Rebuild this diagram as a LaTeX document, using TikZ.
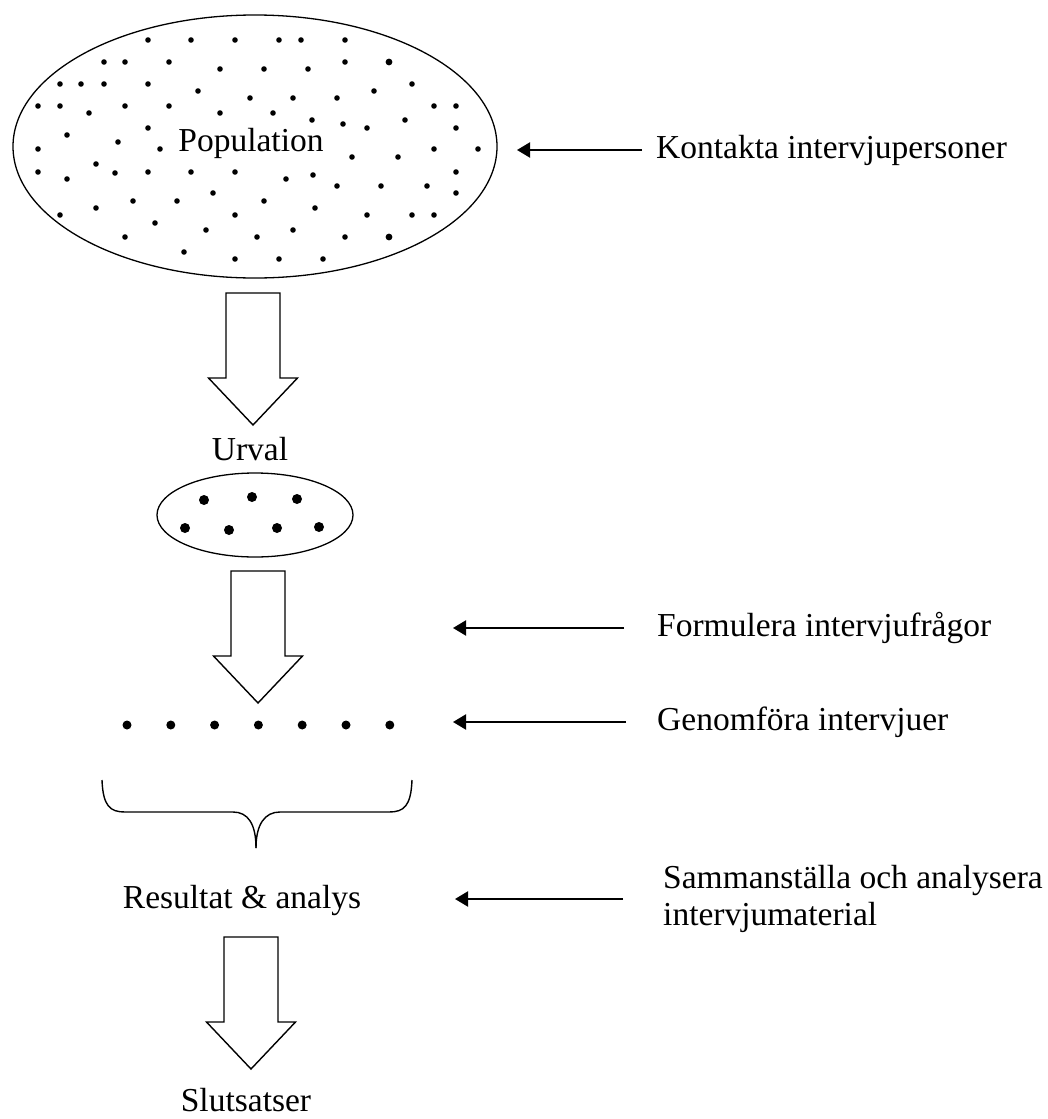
\documentclass[tikz,border=0pt]{standalone}
\usepackage{fontspec}
\setmainfont{Liberation Serif}
\usetikzlibrary{arrows.meta,shapes.geometric}

\tikzset{
  txt/.style={font=\fontsize{33.5}{37}\selectfont, inner sep=0pt},
  pointer/.style={line width=2pt, -{Triangle[length=13pt,width=15pt]}},
  blockarrow/.style={line width=1.4pt},
  ring/.style={draw, ellipse, line width=1.3pt, inner sep=0pt}
}

% block arrow pointing down, #1 = top centre of the shaft
\newcommand{\downblock}[1]{%
  \draw[blockarrow] (#1) ++(-27,0) -- ++(0,85) -- ++(-17.5,0) -- ++(44.5,47)
    -- ++(44.5,-47) -- ++(-17.5,0) -- ++(0,-85) -- cycle;}

\begin{document}
\begin{tikzpicture}[x=1pt,y=-1pt]
 \useasboundingbox (0,0) rectangle (1047,1119);

 % population
 \node[ring, minimum width=484, minimum height=263] (population) at (255,146.5) {};
 \foreach \px/\py in {148/40,191/40,235/40,279/40,301/40,345/40,
   104/62,125/62,169/62,345/62,220/69,264/69,308/69,
   60/84,81/84,104/84,148/84,412/84,198/91,374/91,250/98,293/98,337/98,
   38/106,60/106,125/106,169/106,434/106,456/106,89/113,220/113,273/113,
   312/120,405/120,343/124,148/128,367/128,456/128,67/135,118/142,
   38/149,160/149,434/149,478/149,352/157,398/157,96/164,
   38/172,148/172,191/172,235/172,456/172,115/173,313/175,67/179,286/179,
   337/186,381/186,427/186,213/193,456/193,133/201,177/201,264/201,
   96/208,315/208,60/215,235/215,367/215,412/215,434/215,155/223,
   206/230,293/230,125/237,257/237,345/237,184/252,235/259,279/259,323/259}
   \fill (\px,\py) circle (2.8);
 \fill (389,62) circle (3.4);
 \fill (389,237) circle (3.4);
 \node[txt, anchor=base] (poplabel) at (251,151) {Population};

 \coordinate (arrow1) at (253,293);
 \downblock{arrow1}

 % urval
 \node[txt, anchor=base] (urval) at (250,460) {Urval};
 \node[ring, minimum width=196, minimum height=84] (urvalset) at (255,515) {};
 \foreach \px/\py in {204/500,252/497,297/499,185/528,229/530,277/528,319/527}
   \fill (\px,\py) circle (5);

 \coordinate (arrow2) at (258,571);
 \downblock{arrow2}

 % interviews
 \foreach \i in {0,...,6}
   \fill (127+43.8*\i,725) circle (4.5);

 \draw[line width=1.4pt] (102,780) .. controls (103,806) and (110,812) .. (125,812)
   -- (233,812) .. controls (248,812) and (256,824) .. (256,848);
 \draw[line width=1.4pt] (412,780) .. controls (411,806) and (404,812) .. (389,812)
   -- (280,812) .. controls (265,812) and (256,824) .. (256,848);

 \node[txt, anchor=base] (resultat) at (242,908) {Resultat \& analys};

 \coordinate (arrow3) at (251,937);
 \downblock{arrow3}

 \node[txt, anchor=base] (slutsatser) at (246,1111) {Slutsatser};

 % steps on the right
 \node[txt, anchor=west] (kontakta) at (656,150) {Kontakta intervjupersoner};
 \node[txt, anchor=west] (formulera) at (657,628) {Formulera intervjufrågor};
 \node[txt, anchor=west] (genomfora) at (657,722) {Genomföra intervjuer};
 \node[txt, anchor=west, align=left] (sammanstalla) at (663,899)
   {Sammanställa och analysera\\intervjumaterial};

 \coordinate (kontakta tip) at (517,150);
 \coordinate (formulera tip) at (453,628);
 \coordinate (genomfora tip) at (453,722);
 \coordinate (sammanstalla tip) at (455,899);

 \draw[pointer] ([xshift=-14]kontakta.west) -- (kontakta tip);
 \draw[pointer] ([xshift=-33]formulera.west) -- (formulera tip);
 \draw[pointer] ([xshift=-31]genomfora.west) -- (genomfora tip);
 \draw[pointer] ([xshift=-40]sammanstalla.west) -- (sammanstalla tip);
\end{tikzpicture}
\end{document}
